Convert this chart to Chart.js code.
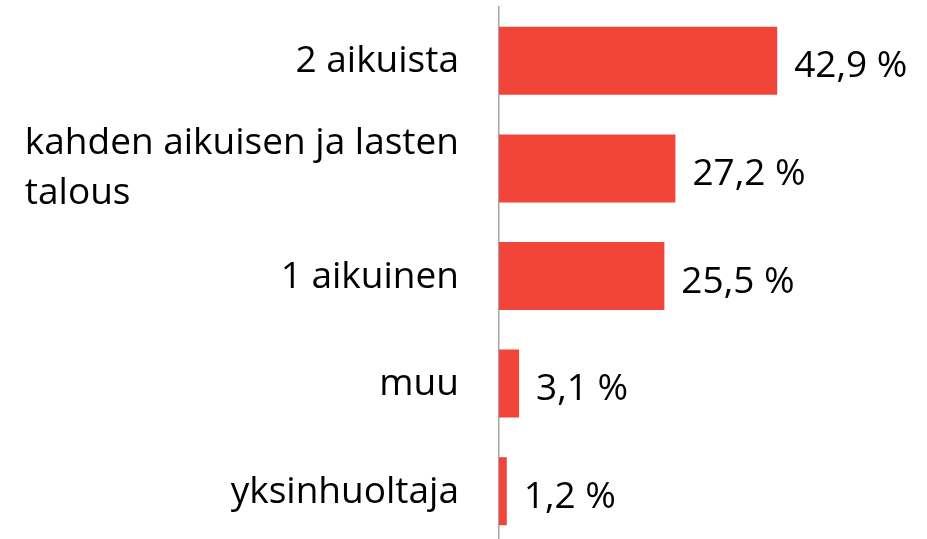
<!DOCTYPE html>
<html>
<head>
<meta charset="utf-8">
<script src="https://cdn.jsdelivr.net/npm/chart.js@4.4.1/dist/chart.umd.min.js"></script>
<style>
  html, body { margin: 0; padding: 0; background: #fff; overflow: hidden; }
  #wrap { position: relative; width: 927px; height: 545px; }
</style>
</head>
<body>
<div id="wrap"><canvas id="householdChart"></canvas></div>
<script>
const categories = [
    ['2 aikuista'],
    ['kahden aikuisen ja lasten', 'talous'],
    ['1 aikuinen'],
    ['muu'],
    ['yksinhuoltaja']
];
const shares = [42.9, 27.2, 25.5, 3.1, 1.2];

const FONT = "'Open Sans', Lato, sans-serif";
const LABEL_SIZE = 37;

function formatPct(v) {
    return v.toFixed(1).replace('.', ',') + ' %';
}

// category names on the left and values next to the bars
const labelPlugin = {
    id: 'labels',
    afterDatasetsDraw(chart) {
        const ctx = chart.ctx;
        const yScale = chart.scales.y;
        const meta = chart.getDatasetMeta(0);
        ctx.save();
        ctx.fillStyle = '#000';
        ctx.font = LABEL_SIZE + 'px ' + FONT;
        ctx.textBaseline = 'middle';

        categories.forEach((lines, i) => {
            const y = yScale.getPixelForValue(i);
            const right = yScale.right - 40;
            if (lines.length === 1) {
                ctx.textAlign = 'right';
                ctx.fillText(lines[0], right, y + 1);
            } else {
                const w = ctx.measureText(lines[0]).width;
                ctx.textAlign = 'left';
                ctx.fillText(lines[0], right - w, y - 25);
                ctx.fillText(lines[1], right - w, y + 25);
            }
        });

        ctx.textAlign = 'left';
        meta.data.forEach((bar, i) => {
            ctx.fillText(formatPct(shares[i]), bar.x + 17, bar.y + 6);
        });
        ctx.restore();
    }
};

new Chart(document.getElementById('householdChart'), {
    type: 'bar',
    data: {
        labels: categories,
        datasets: [{
            data: shares,
            backgroundColor: '#f04538',
            borderWidth: 0,
            categoryPercentage: 1,
            barPercentage: 0.632
        }]
    },
    options: {
        indexAxis: 'y',
        responsive: true,
        maintainAspectRatio: false,
        animation: false,
        layout: { padding: { top: 7, right: 0, bottom: 0, left: 0 } },
        plugins: { legend: { display: false }, tooltip: { enabled: false } },
        scales: {
            x: { display: false, min: 0, max: 66 },
            y: {
                grid: { display: false },
                border: { display: true, color: '#a6a6a6', width: 1.5 },
                ticks: { display: false },
                afterFit(scale) { scale.width = 499; }
            }
        }
    },
    plugins: [labelPlugin]
});
</script>
</body>
</html>
